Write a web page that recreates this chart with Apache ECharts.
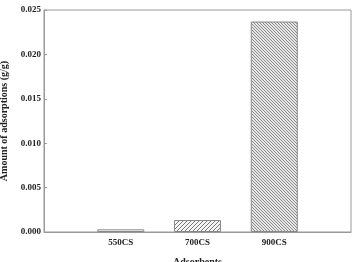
<!DOCTYPE html>
<html><head><meta charset="utf-8">
<script src="https://cdn.jsdelivr.net/npm/echarts@6/dist/echarts.min.js"></script>
<style>html,body{margin:0;padding:0;background:#fff}#c{width:354px;height:262px}</style>
</head><body><div id="c"></div>
<script>
var categories = ['', '550CS', '700CS', '900CS', ''];
var values = [null, 0.0003, 0.00135, 0.0237, null];
var yTicks = [0, 0.005, 0.010, 0.015, 0.020, 0.025];

function hatch(dir, gap, bg, fg) {
  var c = document.createElement('canvas');
  c.width = gap; c.height = gap;
  var x = c.getContext('2d');
  x.fillStyle = bg; x.fillRect(0, 0, gap, gap);
  x.strokeStyle = fg; x.lineWidth = 1;
  x.beginPath();
  if (dir > 0) {
    x.moveTo(-1, gap + 1); x.lineTo(gap + 1, -1);
    x.moveTo(-1 - gap, gap + 1); x.lineTo(1, -1);
    x.moveTo(gap - 1, gap + 1); x.lineTo(2 * gap + 1, -1);
  } else {
    x.moveTo(-1, -1); x.lineTo(gap + 1, gap + 1);
    x.moveTo(-1 - gap, -1); x.lineTo(1, gap + 1);
    x.moveTo(gap - 1, -1); x.lineTo(2 * gap + 1, gap + 1);
  }
  x.stroke();
  return c;
}
var fills = [null, '#ffffff', {image: hatch(1, 4, '#f4f4f4', '#777777'), repeat: 'repeat'},
             {image: hatch(-1, 3, '#e8e8e8', '#8a8a8a'), repeat: 'repeat'}, null];

var chart = echarts.init(document.getElementById('c'), null, {renderer: 'canvas'});
var font = '"Liberation Serif", "Times New Roman", serif';
chart.setOption({
  animation: false,
  grid: {left: 44, right: 3, top: 10, bottom: 30, show: true, borderColor: '#999', borderWidth: 1,
    containLabel: false, outerBoundsMode: 'none'},
  xAxis: {
    type: 'category', data: categories, boundaryGap: false,
    axisLine: {lineStyle: {color: '#999'}}, axisTick: {show: false},
    axisLabel: {color: '#222', fontFamily: font, fontWeight: 'bold', fontSize: 9, margin: 6,
      interval: 0},
    name: 'Adsorbents', nameLocation: 'middle', nameGap: 25,
    nameTextStyle: {color: '#222', fontFamily: font, fontWeight: 'bold', fontSize: 10}
  },
  yAxis: {
    type: 'value', min: 0, max: 0.025, interval: 0.005,
    axisLine: {show: true, lineStyle: {color: '#999'}},
    axisTick: {show: true, inside: true, length: 3, lineStyle: {color: '#999'}},
    splitLine: {show: false},
    axisLabel: {color: '#222', fontFamily: font, fontWeight: 'bold', fontSize: 9, margin: 3,
      formatter: function (v) { return v.toFixed(3); }},
    name: 'Amount of adsorptions (g/g)', nameLocation: 'middle', nameGap: 31,
    nameTextStyle: {color: '#222', fontFamily: font, fontWeight: 'bold', fontSize: 10}
  },
  series: [{
    type: 'bar', barWidth: 47,
    data: values.map(function (v, i) {
      return {value: v, itemStyle: {color: fills[i], borderColor: '#888', borderWidth: 1}};
    })
  }]
});
</script></body></html>
